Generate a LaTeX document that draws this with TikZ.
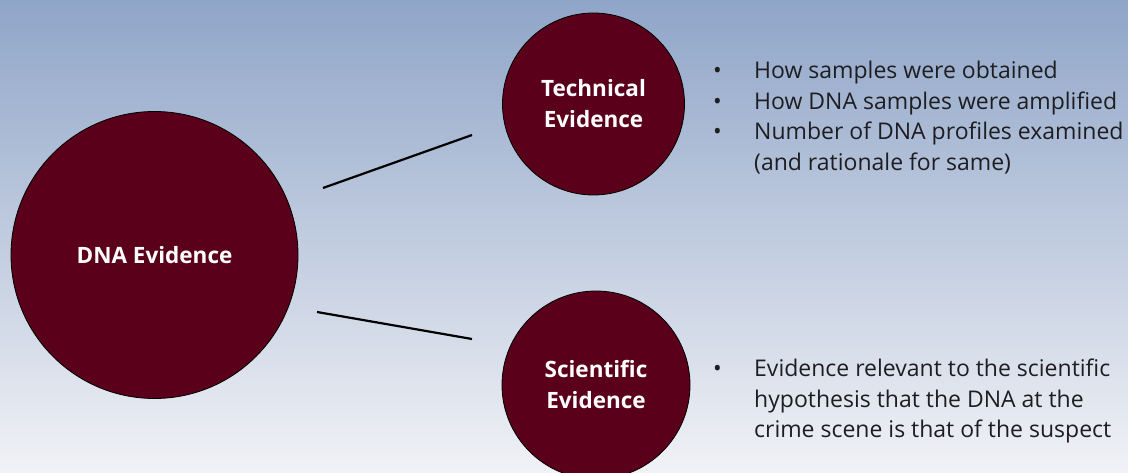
\documentclass[tikz,border=0pt]{standalone}
\usepackage{fontspec}
\setmainfont{Open Sans}
\definecolor{maroon}{HTML}{5A001A}
\definecolor{bgtop}{HTML}{8FA5C8}
\definecolor{bgbot}{HTML}{F1F2F6}
\definecolor{txt}{HTML}{1E1E22}
\tikzset{
  bubble/.style={circle, draw=black, line width=0.8pt, fill=maroon, text=white, inner sep=0pt, align=center, font=\fontsize{22.5}{31}\selectfont\bfseries},
  link/.style={line width=2.2pt, black},
  bullets/.style={anchor=north west, inner sep=0pt, text=txt, font=\fontsize{23}{30.5}\selectfont}
}
\begin{document}
\begin{tikzpicture}[x=1pt,y=-1pt]
\useasboundingbox (0,0) rectangle (1128,473);
\shade[top color=bgtop, bottom color=bgbot] (0,0) rectangle (1128,473);
\begin{scope}
\clip (0,0) rectangle (1128,473);
\node[bubble, minimum size=287pt] (dna) at (154.5,255) {DNA Evidence};
\node[bubble, minimum size=182pt] (tech) at (593.5,104) {Technical\\Evidence};
\node[bubble, minimum size=188pt] (sci) at (596,385) {Scientific\\Evidence};
\end{scope}
\coordinate (a1) at (323,188);
\coordinate (a2) at (472,135);
\coordinate (b1) at (317,312);
\coordinate (b2) at (472,339);
\draw[link] (a1) -- (a2);
\draw[link] (b1) -- (b2);
\node[bullets] (tlist) at (713,57) {%
\begin{tabular}{@{}p{41pt}@{}l@{}}
\textbullet & How samples were obtained\\
\textbullet & How DNA samples were amplified\\
\textbullet & Number of DNA profiles examined\\
 & (and rationale for same)
\end{tabular}};
\node[bullets] (slist) at (713,355) {%
\begin{tabular}{@{}p{41pt}@{}l@{}}
\textbullet & Evidence relevant to the scientific\\
 & hypothesis that the DNA at the\\
 & crime scene is that of the suspect
\end{tabular}};
\end{tikzpicture}
\end{document}
